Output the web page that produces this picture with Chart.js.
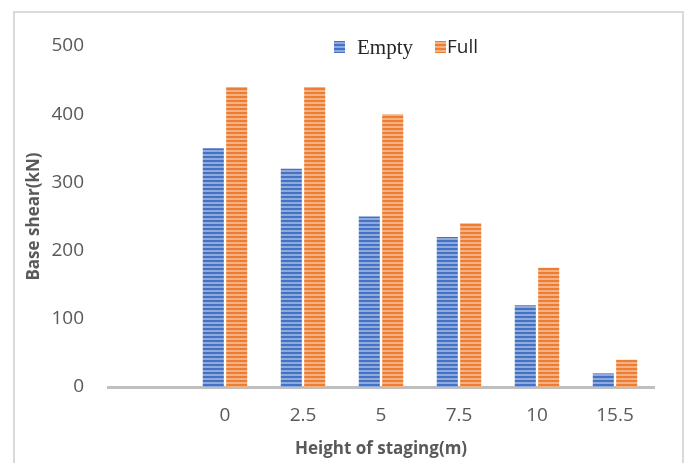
<!DOCTYPE html>
<html lang="en">
<head>
    <meta charset="UTF-8">
    <title>Base shear vs height of staging</title>
    <script src="https://cdn.jsdelivr.net/npm/chart.js"></script>
    <style>
        body { margin: 0; background: #fff; }
        #wrap { position: relative; width: 685px; height: 463px; overflow: hidden; }
        #frame { position: absolute; left: 13px; top: 11px; width: 667px; height: 500px; border: 2px solid #d9d9d9; }
        #chart { position: absolute; left: 0; top: 0; }
    </style>
</head>
<body>
    <div id="wrap">
        <div id="frame"></div>
        <canvas id="chart" width="685" height="463"></canvas>
    </div>
    <script>
        // Dados do gráfico
        const alturas = ['', '0', '2.5', '5', '7.5', '10', '15.5'];
        const vazio = [null, 350, 320, 250, 220, 120, 20];
        const cheio = [null, 440, 440, 400, 240, 175, 40];
        const yTicks = [0, 100, 200, 300, 400, 500];

        // Preenchimento listrado como no Excel
        function listras(base, clara) {
            const c = document.createElement('canvas');
            c.width = 4; c.height = 4;
            const g = c.getContext('2d');
            g.fillStyle = base; g.fillRect(0, 0, 4, 4);
            g.fillStyle = clara; g.fillRect(0, 2, 4, 2);
            return g.createPattern(c, 'repeat');
        }

        // Legenda desenhada dentro da área do gráfico (fontes diferentes por item)
        const legendaPlugin = {
            id: 'legendaInterna',
            afterDraw(chart) {
                const c = chart.ctx;
                const itens = [
                    { x: 334, fonte: '21px "Liberation Serif"', gap: 12 },
                    { x: 435, fonte: '19px "Open Sans"', gap: 1 }
                ];
                const y = 47;
                c.save();
                chart.data.datasets.forEach((ds, i) => {
                    const it = itens[i];
                    c.fillStyle = ds.backgroundColor;
                    c.fillRect(it.x, y - 6, 11, 12);
                    c.fillStyle = '#262626';
                    c.font = it.fonte;
                    c.textBaseline = 'middle';
                    c.fillText(ds.label, it.x + 11 + it.gap, y + 1);
                });
                c.restore();
            }
        };

        const ctx = document.getElementById('chart').getContext('2d');
        const grafico = new Chart(ctx, {
            type: 'bar',
            data: {
                labels: alturas,
                datasets: [{
                    label: 'Empty',
                    data: vazio,
                    backgroundColor: listras('#4472c4', '#8faadc'),
                    categoryPercentage: 0.6,
                    barPercentage: 0.9
                }, {
                    label: 'Full',
                    data: cheio,
                    backgroundColor: listras('#ed7d31', '#f4b183'),
                    categoryPercentage: 0.6,
                    barPercentage: 0.9
                }]
            },
            plugins: [legendaPlugin],
            options: {
                responsive: false,
                animation: false,
                layout: { padding: { top: 46, right: 31, left: 0, bottom: 0 } },
                plugins: {
                    legend: { display: false },
                    tooltip: { enabled: false }
                },
                scales: {
                    x: {
                        grid: { display: false },
                        border: { display: true, color: '#bfbfbf', width: 3 },
                        ticks: { color: '#595959', padding: 9, font: { family: 'Open Sans', size: 19 } },
                        title: {
                            display: true,
                            text: 'Height of staging(m)',
                            color: '#595959',
                            padding: { top: 4, bottom: 4 },
                            font: { family: 'Open Sans', size: 17, weight: 'bold' }
                        },
                        afterFit: s => { s.height = 76; }
                    },
                    y: {
                        min: 0,
                        max: 500,
                        grid: { display: false },
                        border: { display: false },
                        afterBuildTicks: s => { s.ticks = yTicks.map(v => ({ value: v })); },
                        ticks: { color: '#595959', padding: 16, font: { family: 'Open Sans', size: 19 } },
                        title: {
                            display: true,
                            text: 'Base shear(kN)',
                            color: '#595959',
                            padding: { top: 24, bottom: 0 },
                            font: { family: 'Open Sans', size: 17, weight: 'bold' }
                        },
                        afterFit: s => { s.width = 108; }
                    }
                }
            }
        });
    </script>
</body>
</html>
